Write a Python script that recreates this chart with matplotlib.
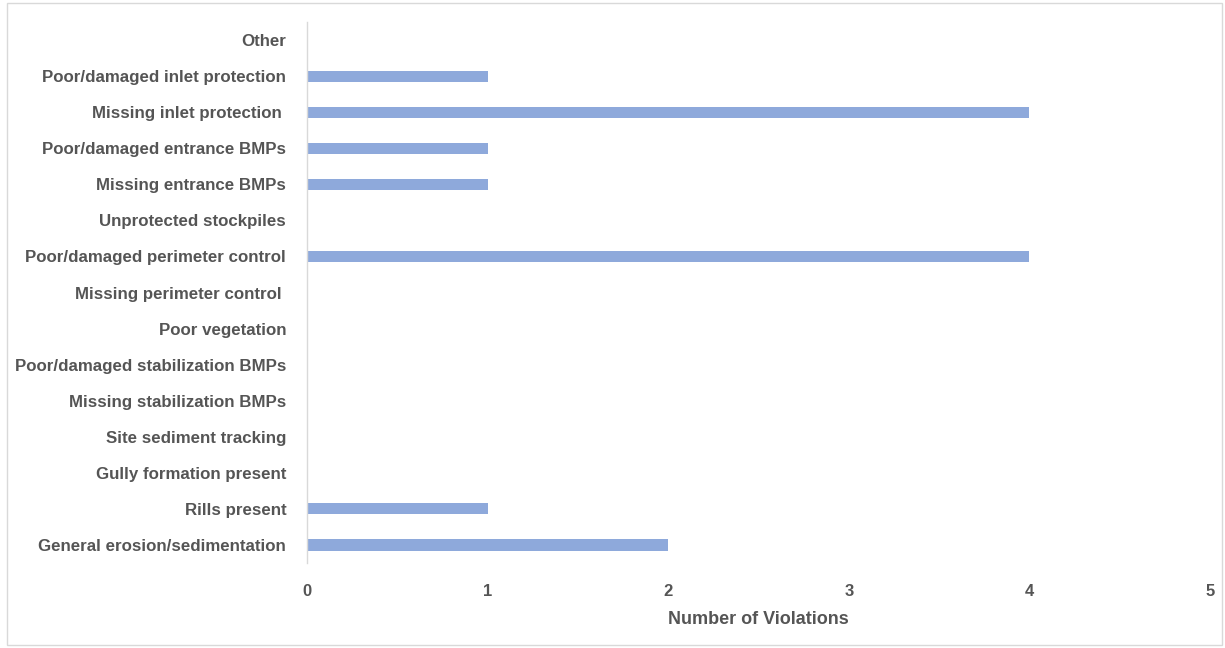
import matplotlib.pyplot as plt
from matplotlib.patches import Rectangle

# Violation categories, bottom to top as drawn
categories = [
    "General erosion/sedimentation",
    "Rills present",
    "Gully formation present",
    "Site sediment tracking",
    "Missing stabilization BMPs",
    "Poor/damaged stabilization BMPs",
    "Poor vegetation",
    "Missing perimeter control ",
    "Poor/damaged perimeter control",
    "Unprotected stockpiles",
    "Missing entrance BMPs",
    "Poor/damaged entrance BMPs",
    "Missing inlet protection ",
    "Poor/damaged inlet protection",
    "Other",
]
violations = [2, 1, 0, 0, 0, 0, 0, 0, 4, 0, 1, 1, 4, 1, 0]
x_ticks = [0, 1, 2, 3, 4, 5]

plt.rcParams["font.family"] = ["Liberation Sans", "DejaVu Sans"]
text_color = "#555555"

fig = plt.figure(figsize=(12.25, 6.48), dpi=100)
fig.patch.set_facecolor("white")
fig.patches.append(Rectangle((7 / 1225, 3 / 648), 1215 / 1225, 642 / 648,
                             transform=fig.transFigure, fill=False,
                             edgecolor="#D9D9D9", linewidth=1.0))

ax = fig.add_axes((307 / 1225, 1 - 563 / 648, (1210 - 307) / 1225, (563 - 22) / 648))
ypos = list(range(len(categories)))
ax.barh(ypos, violations, height=0.31, color="#8EA9DB")

ax.set_xlim(0, 5)
ax.set_ylim(-0.5, len(categories) - 0.5)
ax.set_xticks(x_ticks)
ax.set_xticklabels([str(t) for t in x_ticks], fontsize=12, fontweight="bold", color=text_color)
ax.set_yticks(ypos)
ax.set_yticklabels(categories, fontsize=12.2, fontweight="bold", color=text_color)
ax.tick_params(axis="both", length=0)
ax.tick_params(axis="x", pad=15)
ax.tick_params(axis="y", pad=15)

for side in ["top", "right", "bottom"]:
    ax.spines[side].set_visible(False)
ax.spines["left"].set_color("#D9D9D9")
ax.spines["left"].set_linewidth(1.0)

ax.set_xlabel("Number of Violations", fontsize=13, fontweight="bold", color=text_color, labelpad=9)

fig.savefig("out.png", dpi=100)
